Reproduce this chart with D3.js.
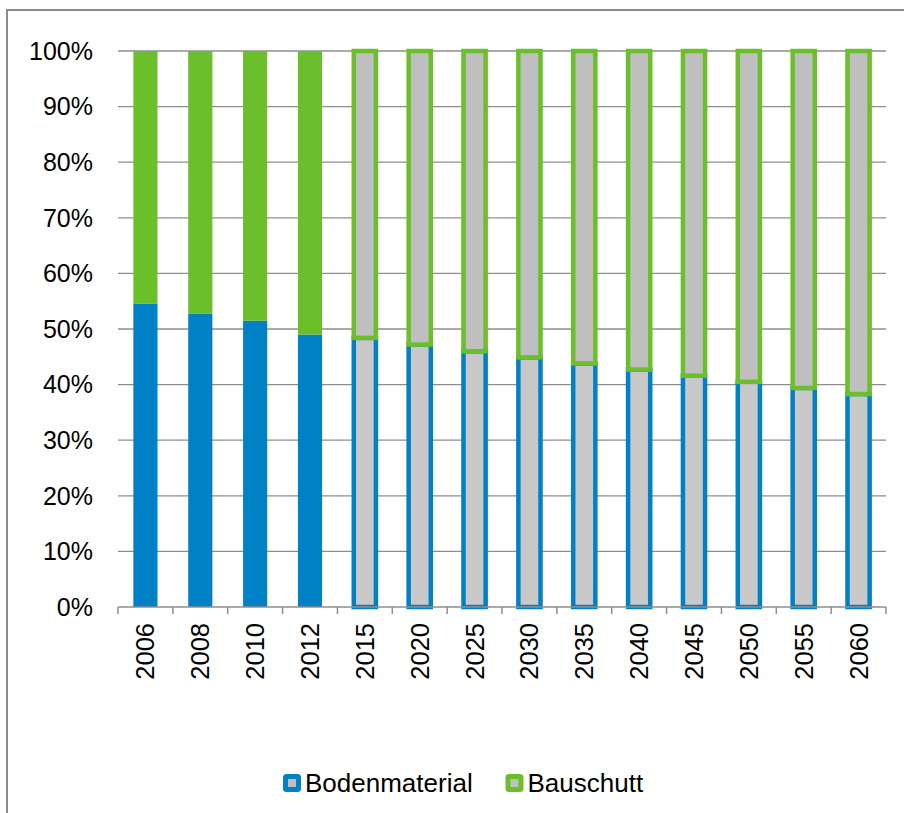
<!DOCTYPE html>
<html>
<head>
<meta charset="utf-8">
<script src="https://cdn.jsdelivr.net/npm/d3@7"></script>
<style>
  html, body { margin: 0; padding: 0; background: #fff; }
  svg { display: block; font-family: "Liberation Sans", Arial, sans-serif; }
</style>
</head>
<body>
<svg id="chart" width="904" height="813"></svg>
<script>
// data (shares in %)
const years = ["2006","2008","2010","2012","2015","2020","2025","2030","2035","2040","2045","2050","2055","2060"];
const bodenmaterial = [54.6, 52.8, 51.5, 49.0, 48.4, 47.2, 46.0, 44.9, 43.8, 42.7, 41.6, 40.5, 39.4, 38.3];
const bauschutt     = [45.4, 47.2, 48.5, 51.0, 51.6, 52.8, 54.0, 55.1, 56.2, 57.3, 58.4, 59.5, 60.6, 61.7];
const projectedYears = ["2015","2020","2025","2030","2035","2040","2045","2050","2055","2060"];
const yTicks = [0, 10, 20, 30, 40, 50, 60, 70, 80, 90, 100];
const seriesNames = ["Bodenmaterial", "Bauschutt"];

const colors = {
  blue: "#0080c5",
  green: "#6abf2b",
  grayTop: "#bfbfbf",
  grayBottom: "#c8c8c8",
  grid: "#8e8e8e"
};

const svg = d3.select("#chart");

// outer frame
svg.append("rect")
  .attr("x", 7).attr("y", 10)
  .attr("width", 920).attr("height", 830)
  .attr("fill", "none")
  .attr("stroke", "#8c8c8c")
  .attr("stroke-width", 2);

const x = d3.scaleBand()
  .domain(years)
  .range([118, 886])
  .paddingInner(0.56)
  .paddingOuter(0.28);

const y = d3.scaleLinear().domain([0, 100]).range([607, 51]);

// gridlines
svg.append("g")
  .selectAll("line")
  .data(yTicks.filter(t => t > 0))
  .join("line")
  .attr("x1", 118).attr("x2", 886)
  .attr("y1", d => y(d)).attr("y2", d => y(d))
  .attr("stroke", colors.grid)
  .attr("stroke-width", 1.3);

// y labels
svg.append("g")
  .selectAll("text")
  .data(yTicks)
  .join("text")
  .attr("x", 93)
  .attr("y", d => y(d))
  .attr("dy", "0.35em")
  .attr("text-anchor", "end")
  .attr("font-size", 25)
  .attr("fill", "#000")
  .text(d => d + "%");

const rows = years.map((yr, i) => ({
  year: yr,
  boden: bodenmaterial[i],
  bau: bauschutt[i],
  projected: projectedYears.includes(yr)
}));

const bw = x.bandwidth();
const bars = svg.append("g");

// solid (historic) bars
const solid = rows.filter(d => !d.projected);
bars.selectAll("rect.boden")
  .data(solid)
  .join("rect")
  .attr("class", "boden")
  .attr("x", d => x(d.year))
  .attr("width", bw)
  .attr("y", d => y(d.boden))
  .attr("height", d => y(0) - y(d.boden))
  .attr("fill", colors.blue);

bars.selectAll("rect.bau")
  .data(solid)
  .join("rect")
  .attr("class", "bau")
  .attr("x", d => x(d.year))
  .attr("width", bw)
  .attr("y", d => y(d.boden + d.bau))
  .attr("height", d => y(d.boden) - y(d.boden + d.bau))
  .attr("fill", colors.green);

// projected bars: gray fill with coloured outline
const proj = rows.filter(d => d.projected);
const sw = 4.5;
bars.selectAll("rect.pboden")
  .data(proj)
  .join("rect")
  .attr("class", "pboden")
  .attr("x", d => x(d.year) + 1)
  .attr("width", bw - 2)
  .attr("y", d => y(d.boden))
  .attr("height", d => y(0) - y(d.boden))
  .attr("fill", colors.grayBottom)
  .attr("stroke", colors.blue)
  .attr("stroke-width", sw);

bars.selectAll("rect.pbau")
  .data(proj)
  .join("rect")
  .attr("class", "pbau")
  .attr("x", d => x(d.year) + 1)
  .attr("width", bw - 2)
  .attr("y", d => y(d.boden + d.bau))
  .attr("height", d => y(d.boden) - y(d.boden + d.bau))
  .attr("fill", colors.grayTop)
  .attr("stroke", colors.green)
  .attr("stroke-width", sw);

// x axis line and tick marks at band boundaries
svg.append("line")
  .attr("x1", 118).attr("x2", 886)
  .attr("y1", y(0)).attr("y2", y(0))
  .attr("stroke", colors.grid)
  .attr("stroke-width", 1.5);

const step = x.step();
svg.append("g")
  .selectAll("line")
  .data(d3.range(years.length + 1))
  .join("line")
  .attr("x1", i => 118 + i * step).attr("x2", i => 118 + i * step)
  .attr("y1", y(0)).attr("y2", y(0) + 7)
  .attr("stroke", colors.grid)
  .attr("stroke-width", 1.5);

// year labels, rotated
svg.append("g")
  .selectAll("text")
  .data(years)
  .join("text")
  .attr("transform", d => `translate(${x(d) + bw / 2},623) rotate(-90)`)
  .attr("dy", "0.35em")
  .attr("text-anchor", "end")
  .attr("font-size", 25.5)
  .attr("fill", "#000")
  .text(d => d);

// legend
const legend = svg.append("g");
const legendItems = [
  { name: seriesNames[0], color: colors.blue, x: 283 },
  { name: seriesNames[1], color: colors.green, x: 505.5 }
];
legendItems.forEach(it => {
  legend.append("rect")
    .attr("x", it.x + 2.5).attr("y", 783 - 6.5)
    .attr("width", 13).attr("height", 13)
    .attr("rx", 1)
    .attr("fill", "#c0c0c0")
    .attr("stroke", it.color)
    .attr("stroke-width", 5);
  legend.append("text")
    .attr("x", it.x + 22)
    .attr("y", 783)
    .attr("dy", "0.35em")
    .attr("font-size", 26)
    .attr("fill", "#000")
    .text(it.name);
});
</script>
</body>
</html>
